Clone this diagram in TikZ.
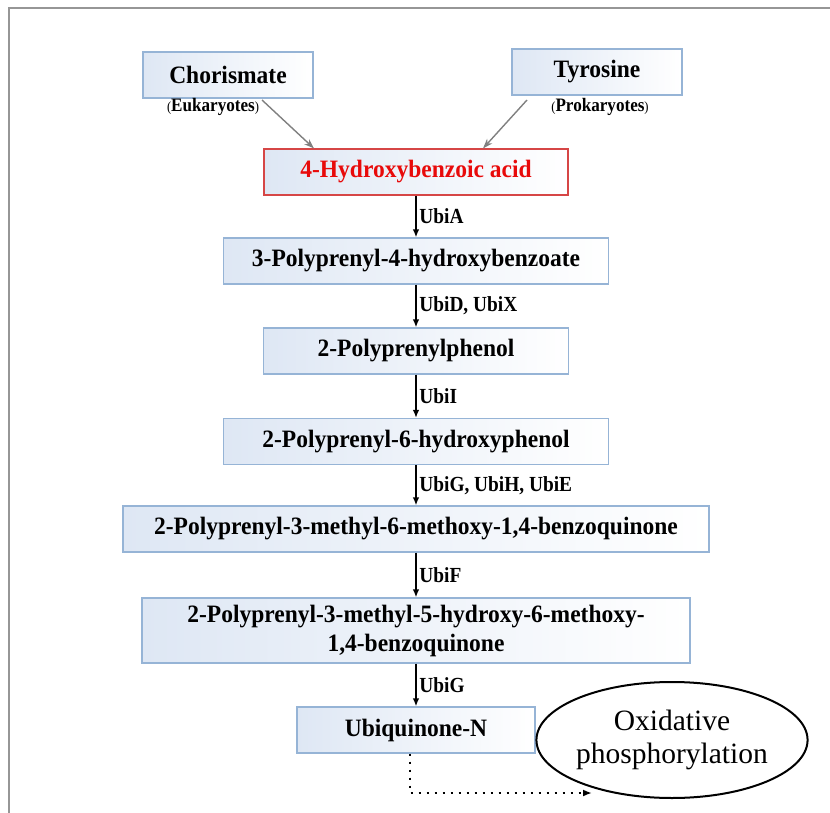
\documentclass[tikz,border=0pt]{standalone}
\usepackage{fontspec}
\setmainfont{Liberation Serif}
\newfontfamily\boxfont[FakeStretch=0.94]{Liberation Serif}
\newfontfamily\enzfont[FakeStretch=0.9]{Liberation Serif}
\usetikzlibrary{arrows.meta,shapes.geometric}
\definecolor{boxline}{RGB}{150,180,214}
\definecolor{boxfill}{RGB}{222,231,244}
\definecolor{acidline}{RGB}{214,70,70}
\definecolor{acidtext}{RGB}{232,10,10}
\definecolor{framegray}{RGB}{150,150,150}
\newcommand{\sparen}[1]{{\mdseries\fontsize{14}{16}\selectfont#1}}
\begin{document}
\begin{tikzpicture}[x=1pt,y=-1pt,
        cpd/.style={draw=boxline,line width=1.1pt,left color=boxfill,right color=white,
            minimum height=46pt,inner sep=0pt,align=center,
            font=\boxfont\bfseries\fontsize{25}{29}\selectfont},
        org/.style={font=\enzfont\bfseries\fontsize{19}{20}\selectfont,inner sep=0pt},
        enz/.style={right,inner sep=2.5pt,font=\enzfont\bfseries\fontsize{21.5}{24}\selectfont},
        flow/.style={line width=1.8pt,-{Latex[length=8pt,width=6.5pt]}},
        feed/.style={draw=gray,line width=1.4pt,-{Stealth[length=10pt,width=7pt]}}]
                \useasboundingbox (0,0) rectangle (830,813);
                \draw[framegray,line width=2pt] (9,813)--(9,8)--(830,8);
                % precursors
                \node[cpd,minimum width=170pt] (chor) at (228,75) {Chorismate};
                \node[cpd,minimum width=170pt] (tyr) at (597,72) {Tyrosine};
                \node[org] (euk) at (213,107) {\sparen{(}Eukaryotes\sparen{)}};
                \node[org] (prok) at (600,107) {\sparen{(}Prokaryotes\sparen{)}};
                % main chain
                \node[cpd,draw=acidline,minimum width=304pt,text=acidtext] (hba) at (416,172) {4-Hydroxybenzoic acid};
                \node[cpd,minimum width=385pt] (ppb) at (416,261) {3-Polyprenyl-4-hydroxybenzoate};
                \node[cpd,minimum width=305pt] (ppp) at (416,351) {2-Polyprenylphenol};
                \node[cpd,minimum width=385pt] (pph) at (416,441.5) {2-Polyprenyl-6-hydroxyphenol};
                \node[cpd,minimum width=586pt] (pmm) at (416,529) {2-Polyprenyl-3-methyl-6-methoxy-1,4-benzoquinone};
                \node[cpd,minimum width=548pt,minimum height=65pt] (pmh) at (416,630.5) {2-Polyprenyl-3-methyl-5-hydroxy-6-methoxy-\\1,4-benzoquinone};
                \node[cpd,minimum width=238pt] (ubq) at (416,730) {Ubiquinone-N};
                \node[draw,ellipse,line width=2pt,minimum width=268pt,minimum height=116pt,inner sep=0pt,
                    align=center,font=\fontsize{29.5}{33}\selectfont] (oxp) at (672,740) {Oxidative\\phosphorylation};
                \coordinate (oxend) at (592,793);
                % connectors
                \draw[feed] (262,100)--(hba.north west-|314,0);
                \draw[feed] (527,100)--(hba.north west-|483,0);
                \draw[flow] (hba)--node[enz]{UbiA}(ppb);
                \draw[flow] (ppb)--node[enz]{UbiD, UbiX}(ppp);
                \draw[flow] (ppp)--node[enz]{UbiI}(pph);
                \draw[flow] (pph)--node[enz]{UbiG, UbiH, UbiE}(pmm);
                \draw[flow] (pmm)--node[enz]{UbiF}(pmh);
                \draw[flow] (pmh)--node[enz]{UbiG}(ubq);
                \draw[line width=2.6pt,dash pattern=on 2.6pt off 5.4pt,-{Latex[length=9pt,width=7pt]}]
                    ([xshift=-6pt]ubq.south)|-(oxend);
            \end{tikzpicture}
\end{document}
